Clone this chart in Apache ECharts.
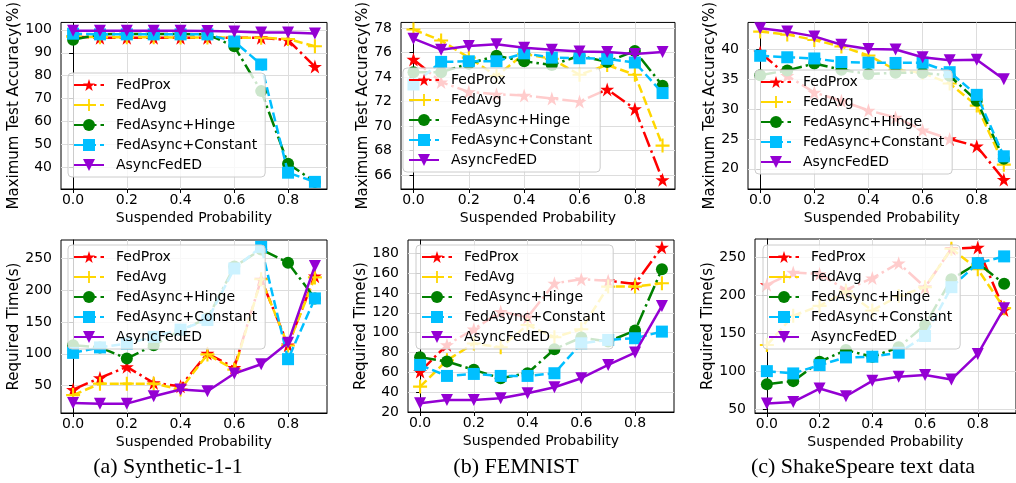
<!DOCTYPE html>
<html>
<head>
<meta charset="utf-8">
<script src="https://cdn.jsdelivr.net/npm/echarts@6/dist/echarts.min.js"></script>
<style>
  html, body { margin: 0; padding: 0; background: #fff; }
  #main { width: 1016px; height: 483px; }
</style>
</head>
<body>
<div id="main"></div>
<script>
var probs = [0, 0.1, 0.2, 0.3, 0.4, 0.5, 0.6, 0.7, 0.8, 0.9];
var xTicks = [0, 0.2, 0.4, 0.6, 0.8];
var methods = ['FedProx', 'FedAvg', 'FedAsync+Hinge', 'FedAsync+Constant', 'AsyncFedED'];

// rows follow the order of methods
var accSynthetic = [
  [97, 96.5, 96.5, 96.5, 96.5, 96.5, 96.5, 96.5, 95.5, 84],
  [97, 96.8, 96.8, 96.8, 96.6, 96.6, 96.6, 96.5, 96, 92.8],
  [95.7, 98, 98.2, 98.2, 98.2, 98, 92.8, 73.3, 41.7, 33.8],
  [98.3, 98, 98, 98, 98, 98, 94.9, 84.9, 37.8, 33.8],
  [99.6, 99.6, 99.6, 99.6, 99.6, 99.5, 99.2, 98.8, 98.8, 98.4]
];
var accFemnist = [
  [75.45, 73.6, 72.8, 72.6, 72.5, 72.25, 72.0, 73.0, 71.4, 65.6],
  [77.9, 77.0, 75.6, 74.1, 75.9, 75.5, 74.2, 75.0, 74.2, 68.4],
  [74.4, 74.4, 75.1, 75.75, 75.3, 75.0, 75.75, 75.25, 76.15, 73.3],
  [73.4, 75.25, 75.3, 75.3, 75.95, 75.6, 75.55, 75.5, 75.2, 72.7],
  [77.15, 76.25, 76.55, 76.7, 76.4, 76.25, 76.1, 76.05, 75.9, 76.05]
];
var accShakespeare = [
  [39.5, 35.6, 32.8, 31.4, 29.8, 28.6, 26.5, 25.0, 23.8, 18.2],
  [43.0, 42.5, 41.6, 40.5, 39.0, 36.6, 36.1, 34.3, 30.6, 20.7],
  [35.7, 36.5, 37.65, 36.6, 35.9, 36.1, 36.1, 35.6, 31.4, 21.7],
  [38.95, 38.7, 38.5, 37.9, 37.8, 37.75, 37.8, 36.2, 32.4, 22.1],
  [43.55, 43.0, 42.2, 40.8, 40.1, 40.0, 38.7, 38.2, 38.3, 35.0]
];
var timeSynthetic = [
  [43.7, 62, 79.4, 54.2, 49, 100.4, 78.3, 217, 113.5, 222],
  [35, 53, 53, 53, 44, 99, 75, 217, 113, 220],
  [113.5, 110, 92.5, 113.5, 137, 155.5, 237, 264, 243, 187],
  [101.4, 110, 116, 126.6, 138, 153, 234, 268, 91.5, 187],
  [22.7, 21.6, 21.6, 33.2, 43.7, 41, 69, 83.6, 117.2, 238]
];
var timeFemnist = [
  [60.7, 87.6, 103.4, 121.2, 115.5, 149.7, 153.8, 152.4, 149.1, 186],
  [45.5, 72, 89, 85.2, 107.7, 95.3, 103.4, 146.4, 146.4, 149.7],
  [75.1, 70.8, 62.4, 54, 59, 83.2, 95, 91, 102, 163.9],
  [67.4, 56.3, 58.3, 56.3, 56.3, 59, 89.2, 92.6, 94.3, 101],
  [28.7, 32.1, 32.1, 33.8, 38.8, 44.9, 54, 67.4, 79.8, 126.9]
];
var timeShakespeare = [
  [213.6, 229.8, 228, 207, 222.4, 242, 210.5, 261, 262.7, 180.7],
  [134.6, 173, 186, 205, 180, 199, 210.5, 261, 234, 183],
  [83.3, 87.3, 112.7, 128, 119.3, 131.6, 161, 221, 242, 215],
  [100.4, 97.4, 108.3, 118.4, 119.3, 124.6, 146.5, 210.5, 242, 250.9],
  [57.9, 60, 77.6, 67.5, 87.7, 93, 95.2, 89.5, 122.8, 183]
];

var ticksAccSyn = [40, 50, 60, 70, 80, 90, 100];
var ticksAccFem = [66, 68, 70, 72, 74, 76, 78];
var ticksAccShk = [20, 25, 30, 35, 40];
var ticksTimeSyn = [50, 100, 150, 200, 250];
var ticksTimeFem = [20, 40, 60, 80, 100, 120, 140, 160, 180];
var ticksTimeShk = [50, 100, 150, 200, 250];

var captions = ['(a) Synthetic-1-1', '(b) FEMNIST', '(c) ShakeSpeare text data'];

var STAR = 'path://M50,0 L61.8,35.4 L99,35.4 L69,57.3 L80.3,92.7 L50,70.8 L19.7,92.7 L31,57.3 L1,35.4 L38.2,35.4 Z';
var PLUS = 'path://M8.5,0 H11.5 V8.5 H20 V11.5 H11.5 V20 H8.5 V11.5 H0 V8.5 H8.5 Z';

var styles = [
  { color: '#ff0000', symbol: STAR, size: 14, dash: [16, 4, 2.5, 4], rot: 0 },
  { color: '#ffd700', symbol: PLUS, size: 14, dash: [9, 4], rot: 0 },
  { color: '#008000', symbol: 'circle', size: 12, dash: [16, 4, 2.5, 4], rot: 0 },
  { color: '#00bfff', symbol: 'rect', size: 12, dash: [9, 4], rot: 0 },
  { color: '#9400d3', symbol: 'triangle', size: 12, dash: 'solid', rot: 180 }
];

var panels = [
  { rows: accSynthetic, ticks: ticksAccSyn, min: 30.7, max: 103.2, name: 'Maximum Test Accuracy(%)', gap: 36,
    grid: { left: 61, top: 15, width: 266, height: 174 }, legend: { left: 68, top: 73 } },
  { rows: accFemnist, ticks: ticksAccFem, min: 64.85, max: 78.48, name: 'Maximum Test Accuracy(%)', gap: 29,
    grid: { left: 401, top: 11, width: 274, height: 178 }, legend: { left: 403, top: 68 } },
  { rows: accShakespeare, ticks: ticksAccShk, min: 16.62, max: 44.54, name: 'Maximum Test Accuracy(%)', gap: 28,
    grid: { left: 748, top: 11, width: 274, height: 178 }, legend: { left: 755, top: 70 } },
  { rows: timeSynthetic, ticks: ticksTimeSyn, min: 6.9, max: 278.8, name: 'Required Time(s)', gap: 36,
    grid: { left: 61, top: 240, width: 266, height: 173 }, legend: { left: 68, top: 245 } },
  { rows: timeFemnist, ticks: ticksTimeFem, min: 19.9, max: 193.4, name: 'Required Time(s)', gap: 36,
    grid: { left: 408, top: 240, width: 266, height: 172 }, legend: { left: 416, top: 245 } },
  { rows: timeShakespeare, ticks: ticksTimeShk, min: 45.5, max: 273.7, name: 'Required Time(s)', gap: 35,
    grid: { left: 755, top: 239, width: 266, height: 174 }, legend: { left: 763, top: 245 } }
];

var FONT = 'DejaVu Sans';
var grids = [], xAxes = [], yAxes = [], series = [], legends = [];

panels.forEach(function (p, i) {
  grids.push(Object.assign({ show: true, borderColor: '#000', borderWidth: 1, backgroundColor: '#fff' }, p.grid));
  xAxes.push({
    type: 'value', gridIndex: i, min: -0.045, max: 0.945,
    name: 'Suspended Probability', nameLocation: 'middle', nameGap: 22,
    nameTextStyle: { fontFamily: FONT, fontSize: 14, color: '#000' },
    axisLine: { show: true, onZero: false, lineStyle: { color: '#000', width: 1 } },
    axisTick: { show: true, length: 4, customValues: xTicks, lineStyle: { color: '#000' } },
    axisLabel: { customValues: xTicks, margin: 4, fontFamily: FONT, fontSize: 14, color: '#000',
      formatter: function (v) { return v.toFixed(1); } },
    splitLine: { show: true, lineStyle: { color: '#dddddd', width: 1 } }
  });
  yAxes.push({
    type: 'value', gridIndex: i, min: p.min, max: p.max,
    name: p.name, nameLocation: 'middle', nameGap: p.gap - 1, nameRotate: 90,
    nameTextStyle: { fontFamily: FONT, fontSize: 15, color: '#000' },
    axisLine: { show: true, lineStyle: { color: '#000', width: 1 } },
    axisTick: { show: true, length: 4, customValues: p.ticks, lineStyle: { color: '#000' } },
    axisLabel: { customValues: p.ticks, margin: 9, fontFamily: FONT, fontSize: 14, color: '#000' },
    splitLine: { show: true, lineStyle: { color: '#dddddd', width: 1 } }
  });
  p.rows.forEach(function (row, j) {
    var s = styles[j];
    series.push({
      type: 'line', name: methods[j], xAxisIndex: i, yAxisIndex: i,
      data: probs.map(function (x, k) { return [x, row[k]]; }),
      symbol: s.symbol, symbolSize: s.size, symbolRotate: s.rot,
      itemStyle: { color: s.color },
      lineStyle: { color: s.color, width: 2.5, type: s.dash },
      z: 2 + j * 0.1
    });
  });
  legends.push({
    data: methods, orient: 'vertical', left: p.legend.left, top: p.legend.top,
    itemWidth: 30, itemHeight: 15, itemGap: 6,
    padding: [5, 8, 5, 5],
    backgroundColor: 'rgba(255,255,255,0.8)', borderColor: '#cccccc', borderWidth: 1, borderRadius: 4,
    textStyle: { fontFamily: FONT, fontSize: 14, color: '#000', padding: [0, 0, 0, 7] },
    selectedMode: false
  });
});

var captionX = [168, 516, 863];
var graphics = captions.map(function (c, i) {
  return {
    type: 'text', x: captionX[i], y: 467, z: 100,
    style: { text: c, font: '22px "Liberation Serif"', fill: '#000', align: 'center', verticalAlign: 'middle' }
  };
});

var chart = echarts.init(document.getElementById('main'));
chart.setOption({
  animation: false,
  backgroundColor: '#fff',
  grid: grids,
  xAxis: xAxes,
  yAxis: yAxes,
  legend: legends,
  series: series,
  graphic: graphics
});
</script>
</body>
</html>
